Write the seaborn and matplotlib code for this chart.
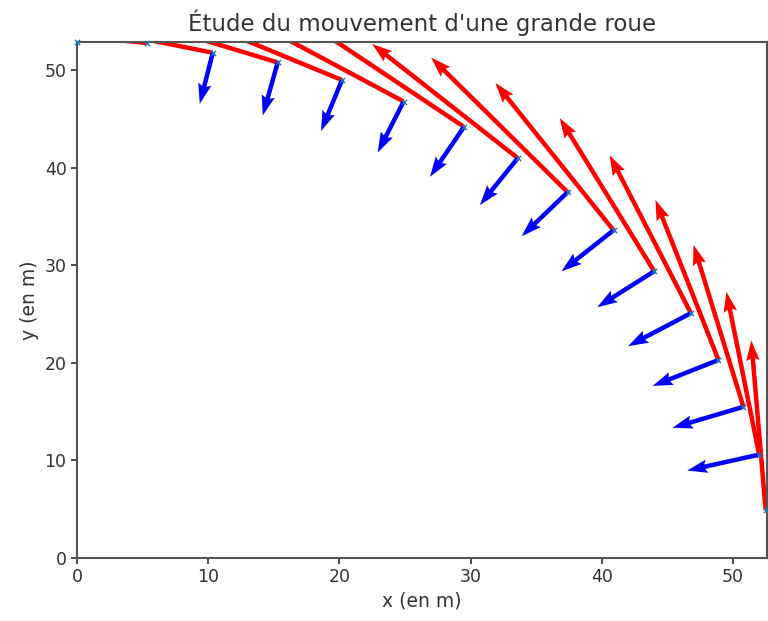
import numpy as np
import pandas as pd
import matplotlib
matplotlib.use("Agg")
import matplotlib.pyplot as plt
import seaborn as sns

# positions relevees (en m)
x_pos = [0.0, 5.3, 10.35, 15.3, 20.2, 24.9, 29.5, 33.6, 37.4, 40.9, 44.0, 46.8, 48.9, 50.8, 52.0, 52.5]
y_pos = [52.9, 52.8, 51.8, 50.8, 49.0, 46.8, 44.2, 41.0, 37.5, 33.6, 29.4, 25.1, 20.3, 15.5, 10.6, 4.9]

# vecteurs vitesse (points 2 a 16)
vx = [-14.0, -13.8, -13.5, -13.0, -12.4, -11.7, -11.1, -10.4, -9.0, -7.2, -6.2, -4.8, -3.8, -2.5, -1.1]
vy = [1.9, 3.7, 5.5, 7.2, 8.9, 10.5, 11.7, 13.8, 15.1, 15.7, 16.2, 16.4, 16.6, 16.7, 17.4]

# vecteurs acceleration (points 3 a 15)
acc_x = [-0.99, -1.14, -1.60, -1.98, -2.59, -2.89, -3.50, -3.96, -4.34, -4.79, -5.02, -5.40, -5.48]
acc_y = [-5.23, -5.43, -5.23, -5.23, -5.12, -4.82, -4.51, -4.20, -3.69, -3.38, -2.66, -2.15, -1.64]

df = pd.DataFrame({'x': x_pos, 'y': y_pos})
df_v = df.iloc[1:].copy()
df_v['vx'] = vx
df_v['vy'] = vy
df_a = df.iloc[2:15].copy()
df_a['ax'] = acc_x
df_a['ay'] = acc_y

sns.set_theme(style="ticks")
plt.rcParams.update({
    'font.family': ['DejaVu Sans'],
    'font.size': 12.5,
    'axes.titlesize': 16.5,
    'axes.labelsize': 13.5,
    'xtick.labelsize': 12.5,
    'ytick.labelsize': 12.5,
    'axes.edgecolor': '#555555',
    'axes.linewidth': 1.5,
})

fig = plt.figure(figsize=(7.68, 6.21), dpi=100)
ax = fig.add_axes([77 / 768, 63 / 621, 690 / 768, 516 / 621])

ax.quiver(df_v['x'], df_v['y'], df_v['vx'], df_v['vy'], color='red',
          angles='xy', scale_units='xy', scale=1, width=0.0065,
          headwidth=3, headlength=4.5, headaxislength=4, zorder=2)
ax.quiver(df_a['x'], df_a['y'], df_a['ax'], df_a['ay'], color='blue',
          angles='xy', scale_units='xy', scale=1, width=0.0065,
          headwidth=3, headlength=4.5, headaxislength=4, zorder=2)
sns.scatterplot(data=df, x='x', y='y', marker='x', color='#1f77b4', s=14,
                linewidth=1.0, ax=ax, zorder=3, clip_on=False)

ax.set_xlim(0, 52.6)
ax.set_ylim(0, 52.9)
ax.set_xticks([0, 10, 20, 30, 40, 50])
ax.set_yticks([0, 10, 20, 30, 40, 50])
ax.set_title("Étude du mouvement d'une grande roue", color='#333333', pad=8)
ax.set_xlabel('x (en m)', color='#333333')
ax.set_ylabel('y (en m)', color='#333333')
ax.tick_params(colors='#333333', length=4)

fig.savefig('out.png', dpi=100)
